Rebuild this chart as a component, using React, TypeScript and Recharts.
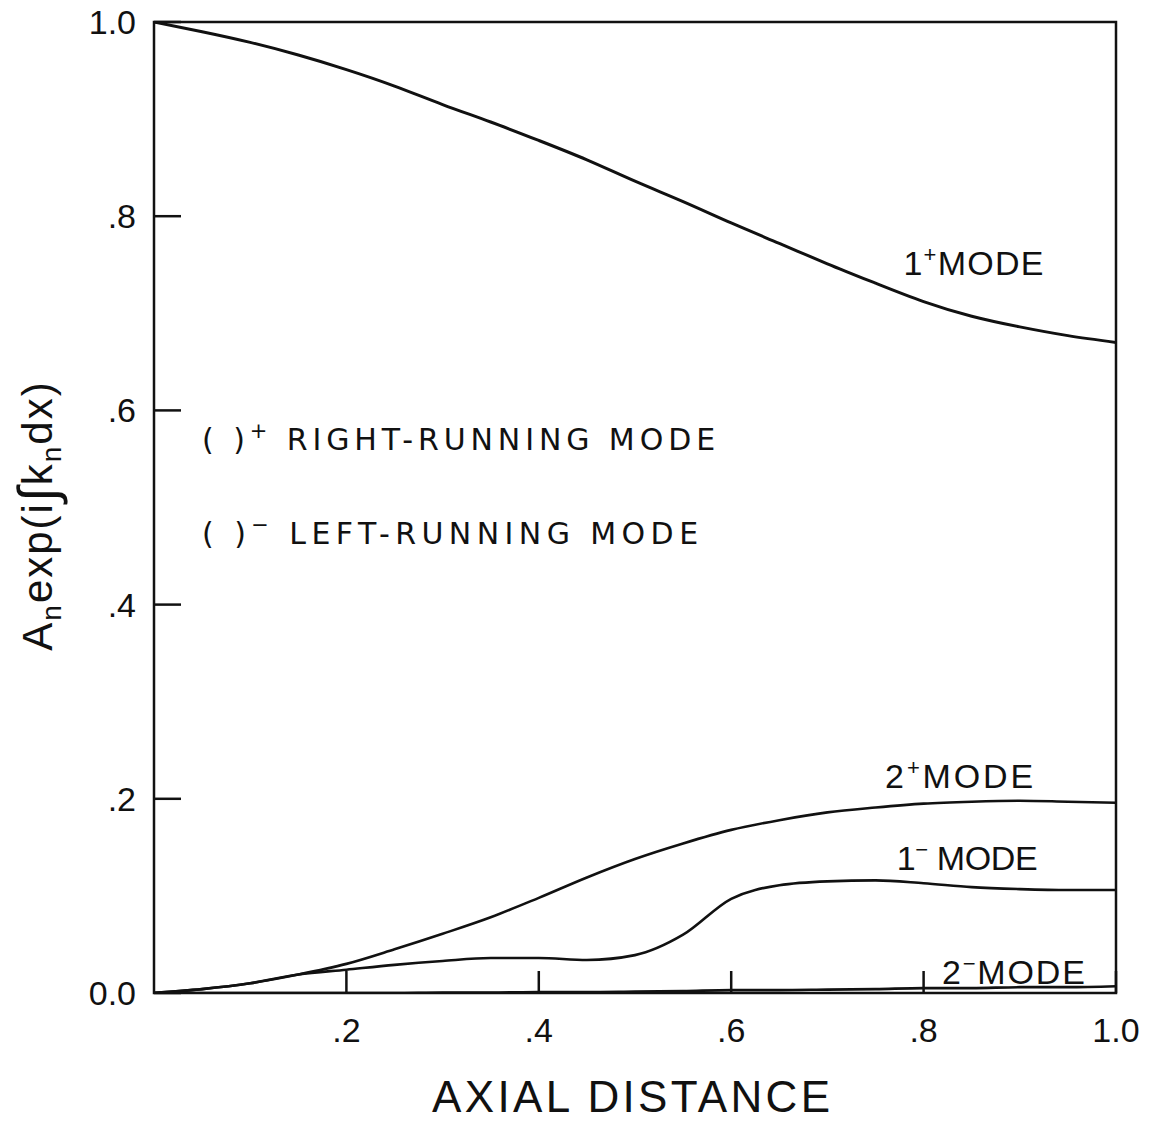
import React from 'react';
import { LineChart, Line, XAxis, YAxis, ReferenceArea, ReferenceDot } from 'recharts';

// ---- data ----
const AXIAL = [0, 0.05, 0.1, 0.15, 0.2, 0.25, 0.3, 0.35, 0.4, 0.45, 0.5, 0.55, 0.6, 0.65, 0.7, 0.75, 0.8, 0.85, 0.9, 0.95, 1.0];
const MODE_1_PLUS = [1.0, 0.99, 0.979, 0.966, 0.951, 0.934, 0.915, 0.897, 0.878, 0.858, 0.836, 0.815, 0.793, 0.772, 0.751, 0.731, 0.712, 0.697, 0.686, 0.677, 0.67];
const MODE_2_PLUS = [0, 0.004, 0.01, 0.019, 0.03, 0.045, 0.061, 0.078, 0.098, 0.119, 0.138, 0.154, 0.168, 0.178, 0.186, 0.191, 0.195, 0.197, 0.198, 0.197, 0.196];
const MODE_1_MINUS = [0, 0.004, 0.01, 0.019, 0.024, 0.029, 0.033, 0.036, 0.036, 0.034, 0.039, 0.06, 0.097, 0.111, 0.115, 0.116, 0.113, 0.109, 0.107, 0.106, 0.106];
const MODE_2_MINUS = [0, 0, 0, 0, 0, 0, 0.0005, 0.0005, 0.001, 0.001, 0.0015, 0.002, 0.003, 0.003, 0.0035, 0.004, 0.005, 0.005, 0.006, 0.006, 0.007];

const X_TICKS = [0.2, 0.4, 0.6, 0.8, 1.0];
const X_TICK_LABELS = ['.2', '.4', '.6', '.8', '1.0'];
const Y_TICKS = [0, 0.2, 0.4, 0.6, 0.8, 1.0];
const Y_TICK_LABELS = ['0.0', '.2', '.4', '.6', '.8', '1.0'];

const X_TITLE = 'AXIAL DISTANCE';

const rows = AXIAL.map((x, i) => ({
  x,
  m1p: MODE_1_PLUS[i],
  m2p: MODE_2_PLUS[i],
  m1m: MODE_1_MINUS[i],
  m2m: MODE_2_MINUS[i],
}));

const FONT = '"Liberation Sans", Arial, sans-serif';
const WIDE_FONT = '"DejaVu Sans", "Liberation Sans", sans-serif';
const INK = '#111';

const XTick = (props: any) => {
  const { x, y, payload } = props;
  const idx = X_TICKS.indexOf(payload.value);
  return (
    <g>
      <line x1={x} x2={x} y1={y} y2={y - 22} stroke={INK} strokeWidth={2.5} />
      <text x={x} y={y + 49} textAnchor="middle" fontFamily={FONT} fontSize={34} fill={INK}>
        {X_TICK_LABELS[idx]}
      </text>
    </g>
  );
};

const YTick = (props: any) => {
  const { x, y, payload } = props;
  const idx = Y_TICKS.indexOf(payload.value);
  return (
    <g>
      <line x1={x} x2={x + 27} y1={y} y2={y} stroke={INK} strokeWidth={2.5} />
      <text x={x - 18} y={y + 12} textAnchor="end" fontFamily={FONT} fontSize={34} fill={INK}>
        {Y_TICK_LABELS[idx]}
      </text>
    </g>
  );
};

const XTitle = (props: any) => {
  const vb = props.viewBox || {};
  return (
    <text
      x={vb.x + vb.width / 2 - 4}
      y={vb.y + 119}
      textAnchor="middle"
      fontFamily={FONT}
      fontSize={44}
      fill={INK}
      textLength={398}
      lengthAdjust="spacing"
    >
      {X_TITLE}
    </text>
  );
};

const YTitle = (props: any) => {
  const vb = props.viewBox || {};
  const cx = vb.x + vb.width - 102;
  const cy = vb.y + vb.height / 2 + 8;
  return (
    <text
      x={cx}
      y={cy}
      transform={`rotate(-90 ${cx} ${cy})`}
      textAnchor="middle"
      fontFamily={FONT}
      fontSize={42}
      fill={INK}
      letterSpacing={2}
    >
      A
      <tspan fontSize={28} dy={9}>n</tspan>
      <tspan dy={-9}>exp(i</tspan>
      <tspan fontSize={54} dy={4}>∫</tspan>
      <tspan dy={-4}>k</tspan>
      <tspan fontSize={28} dy={9}>n</tspan>
      <tspan dy={-9}>dx)</tspan>
    </text>
  );
};

const modeNote = (num: string, sign: string, gap: string, width: number) => (p: any) => {
  const vb = p.viewBox || {};
  return (
    <text x={vb.x} y={vb.y} fontFamily={FONT} fontSize={34} fill={INK} textLength={width} lengthAdjust="spacing">
      {num}
      <tspan fontSize={22} dy={-13}>{sign}</tspan>
      <tspan dy={13}>{gap}MODE</tspan>
    </text>
  );
};

const legendNote = (sign: string, text: string, width: number) => (p: any) => {
  const vb = p.viewBox || {};
  return (
    <text x={vb.x} y={vb.y} fontFamily={WIDE_FONT} fontSize={30} fill={INK} textLength={width} lengthAdjust="spacing">
      {'(    )'}
      <tspan fontSize={21} dy={-12}>{sign}</tspan>
      <tspan dy={12}>{' ' + text}</tspan>
    </text>
  );
};

export default function App() {
  return (
    <div style={{ position: 'absolute', left: 0, top: 0, background: '#fff' }}>
      <LineChart
        width={1159}
        height={1122}
        data={rows}
        margin={{ top: 22, right: 43, bottom: 99, left: 94 }}
      >
        <XAxis
          type="number"
          dataKey="x"
          domain={[0, 1]}
          ticks={X_TICKS}
          tickSize={0}
          tickMargin={0}
          axisLine={false}
          tickLine={false}
          tick={<XTick />}
          height={30}
          allowDataOverflow
          label={XTitle}
        />
        <YAxis
          type="number"
          domain={[0, 1]}
          ticks={Y_TICKS}
          tickSize={0}
          tickMargin={0}
          axisLine={false}
          tickLine={false}
          tick={<YTick />}
          width={60}
          allowDataOverflow
          label={YTitle}
        />
        <ReferenceArea x1={0} x2={1} y1={0} y2={1} fill="none" stroke={INK} strokeWidth={2.5} ifOverflow="visible" />
        <Line type="natural" dataKey="m1p" stroke={INK} strokeWidth={3} dot={false} isAnimationActive={false} />
        <Line type="monotone" dataKey="m2p" stroke={INK} strokeWidth={2.6} dot={false} isAnimationActive={false} />
        <Line type="monotone" dataKey="m1m" stroke={INK} strokeWidth={2.6} dot={false} isAnimationActive={false} />
        <Line type="monotone" dataKey="m2m" stroke={INK} strokeWidth={2.6} dot={false} isAnimationActive={false} />
        <ReferenceDot x={0.779} y={0.739} r={0} stroke="none" fill="none" label={modeNote('1', '+', '', 140)} />
        <ReferenceDot x={0.76} y={0.211} r={0} stroke="none" fill="none" label={modeNote('2', '+', '', 148)} />
        <ReferenceDot x={0.772} y={0.127} r={0} stroke="none" fill="none" label={modeNote('1', '−', ' ', 141)} />
        <ReferenceDot x={0.819} y={0.0093} r={0} stroke="none" fill="none" label={modeNote('2', '−', '', 143)} />
        <ReferenceDot x={0.05} y={0.559} r={0} stroke="none" fill="none" label={legendNote('+', 'RIGHT-RUNNING MODE', 513)} />
        <ReferenceDot x={0.05} y={0.4624} r={0} stroke="none" fill="none" label={legendNote('−', 'LEFT-RUNNING MODE', 496)} />
      </LineChart>
    </div>
  );
}
